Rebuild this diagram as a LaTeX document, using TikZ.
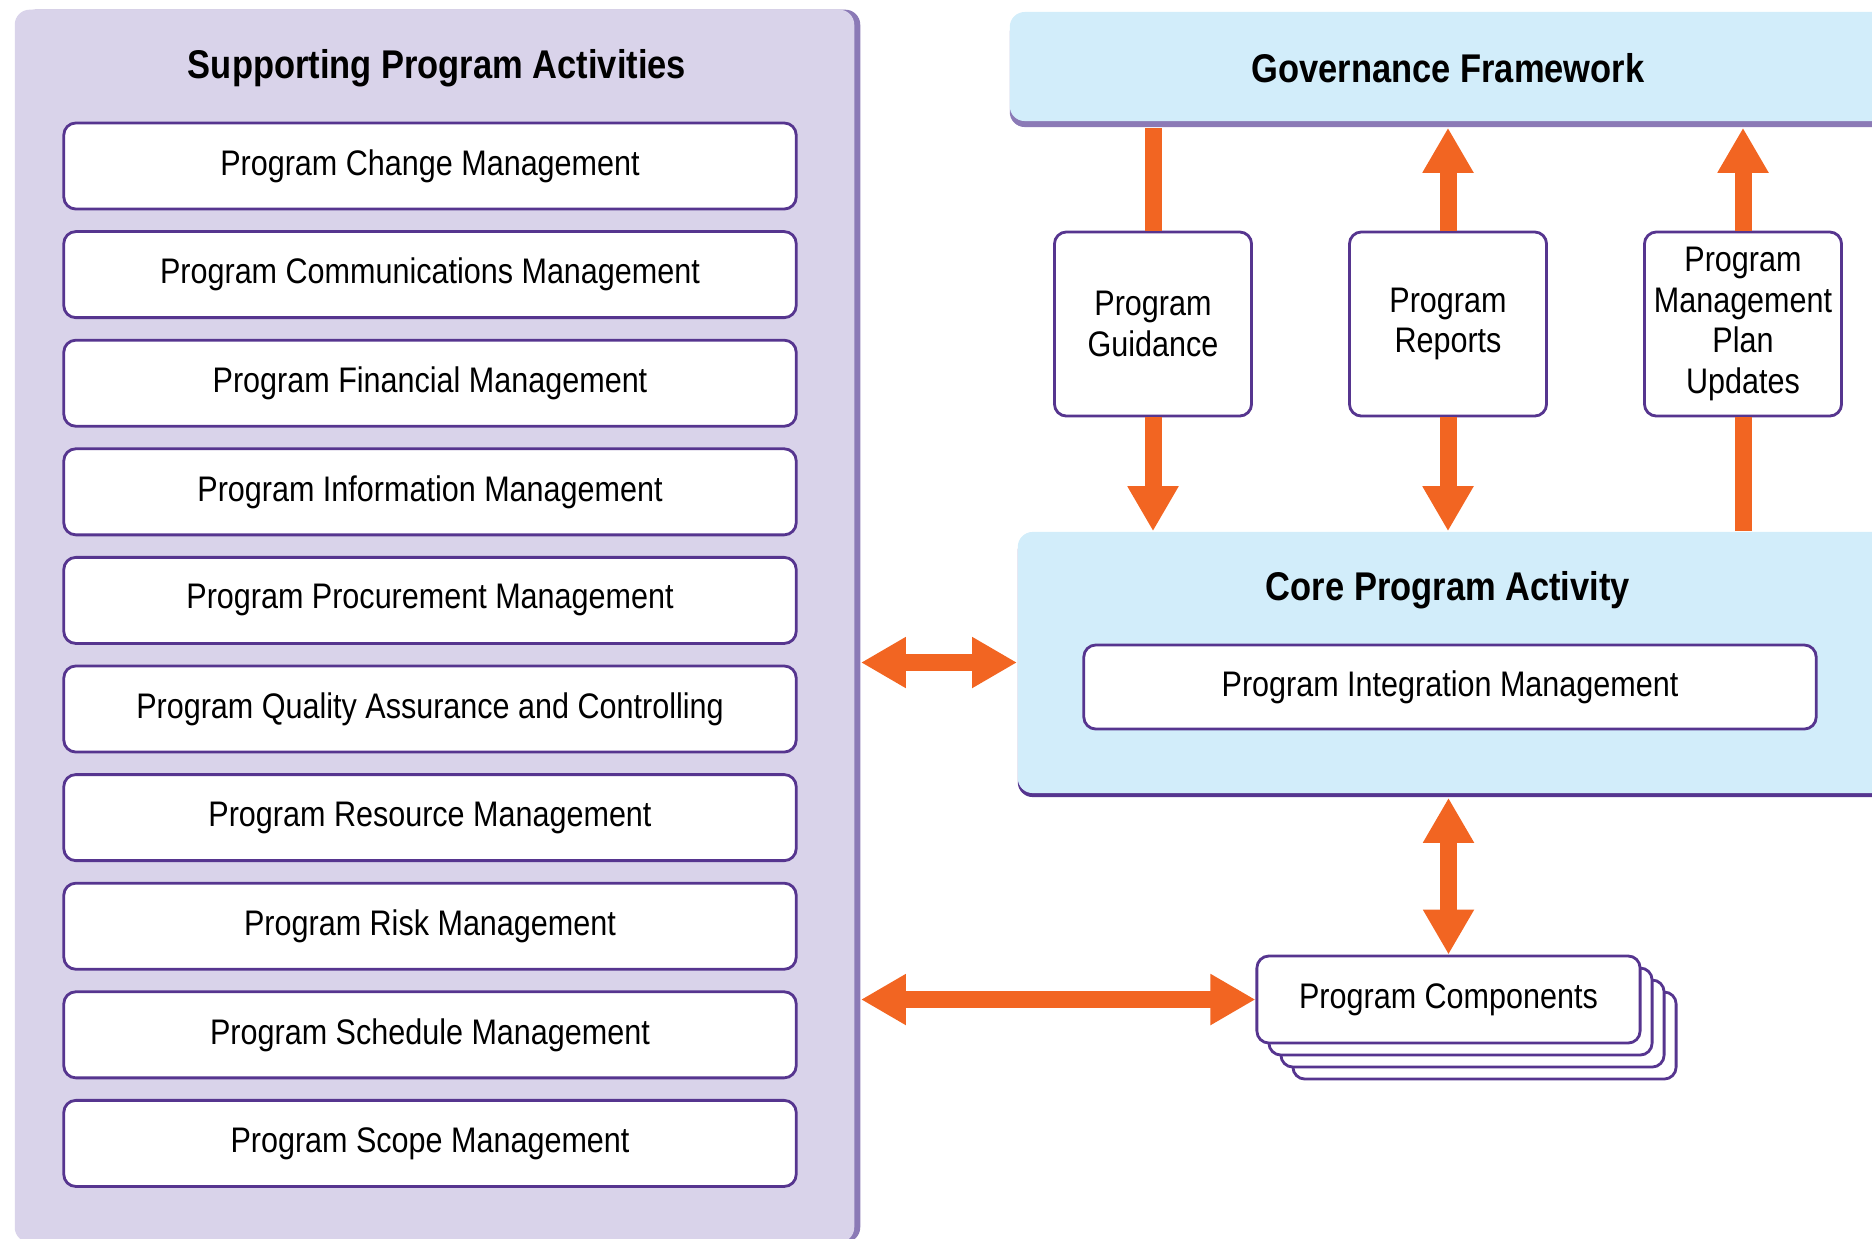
\documentclass[tikz,border=0pt]{standalone}
\usepackage{fontspec}
\setmainfont{Liberation Sans}[FakeStretch=0.86]
\usepackage{tikz}
\usetikzlibrary{arrows.meta,positioning,shadows}

\definecolor{lavfill}{HTML}{D9D3EA}
\definecolor{lavedge}{HTML}{8B7AB6}
\definecolor{boxline}{HTML}{56358F}
\definecolor{skyfill}{HTML}{D2EDFA}
\definecolor{flow}{HTML}{F26522}

\begin{document}
\begin{tikzpicture}[x=0.01cm, y=-0.01cm,
    panel/.style={rounded corners=0.15cm, fill=lavfill, inner sep=0pt,
      general shadow={fill=lavedge, shadow xshift=0.06cm, shadow yshift=0cm}},
    band/.style={rounded corners=0.15cm, fill=skyfill, inner sep=0pt},
    item/.style={draw=boxline, line width=0.8pt, rounded corners=0.12cm, fill=white,
      font=\fontsize{10.1}{11.5}\selectfont, align=center, inner sep=0pt},
    wide/.style={item, minimum width=7.32cm, minimum height=0.86cm},
    tall/.style={item, minimum width=1.97cm, minimum height=1.84cm},
    head/.style={font=\fontsize{11.4}{13}\selectfont\bfseries},
    bar/.style={draw=flow, line width=0.17cm},
    arr/.style={bar, -{Triangle[width=0.48cm, length=0.45cm]}},
    darr/.style={bar, {Triangle[width=0.48cm, length=0.45cm]}-{Triangle[width=0.48cm, length=0.45cm]}},
  ]
    \useasboundingbox (0,0) rectangle (1872,1238);

    % Supporting activities
    \node[panel, minimum width=8.39cm, minimum height=12.32cm] (supp) at (434.5,626) {};
    \node[head] (supptitle) at (437,68) {Supporting Program Activities};
    \node[wide] (chg) at (430,166) {Program Change Management};
    \node[wide] (comm) at (430,274.6) {Program Communications Management};
    \node[wide] (fin) at (430,383.2) {Program Financial Management};
    \node[wide] (info) at (430,491.8) {Program Information Management};
    \node[wide] (proc) at (430,600.4) {Program Procurement Management};
    \node[wide] (qual) at (430,709) {Program Quality Assurance and Controlling};
    \node[wide] (res) at (430,817.6) {Program Resource Management};
    \node[wide] (risk) at (430,926.2) {Program Risk Management};
    \node[wide] (sched) at (430,1034.8) {Program Schedule Management};
    \node[wide] (scope) at (430,1143.4) {Program Scope Management};

    % Governance
    \node[band, minimum width=8.8cm, minimum height=1.09cm,
      general shadow={fill=lavedge, shadow xshift=0cm, shadow yshift=-0.06cm}] (gov) at (1450,66.5) {};
    \node[head] (govtitle) at (1448,68) {Governance Framework};
    \node[tall] (guide) at (1153,324) {Program\\Guidance};
    \node[tall] (reports) at (1448,324) {Program\\Reports};
    \node[tall] (pmpu) at (1743,324) {Program\\Management\\Plan\\Updates};

    % Core activity
    \node[band, minimum width=8.72cm, minimum height=2.61cm,
      general shadow={fill=boxline, shadow xshift=0cm, shadow yshift=-0.04cm}] (core) at (1454,662.5) {};
    \node[head] (coretitle) at (1448,590) {Core Program Activity};
    \node[wide, minimum height=0.84cm] (integ) at (1450,687) {Program Integration Management};

    % Components (stacked)
    \node[item, minimum width=3.83cm, minimum height=0.87cm,
      copy shadow={shadow xshift=0.36cm, shadow yshift=-0.36cm},
      copy shadow={shadow xshift=0.24cm, shadow yshift=-0.24cm},
      copy shadow={shadow xshift=0.12cm, shadow yshift=-0.12cm}] (comps) at (1448.5,999.5) {Program Components};

    % Arrows
    \draw[bar] (guide.north) -- ([yshift=-0.06cm]gov.south -| guide.north);
    \draw[arr] (guide.south) -- (core.north -| guide.south);
    \draw[arr] (reports.north) -- ([yshift=-0.06cm]gov.south -| reports.north);
    \draw[arr] (reports.south) -- (core.north -| reports.south);
    \draw[arr] (pmpu.north) -- ([yshift=-0.06cm]gov.south -| pmpu.north);
    \draw[bar] (pmpu.south) -- (core.north -| pmpu.south);
    \draw[darr] ([xshift=0.06cm]supp.east |- core.west) -- (core.west);
    \draw[darr] ([yshift=-0.04cm]core.south -| comps.north) -- (comps.north);
    \draw[darr] ([xshift=0.06cm]supp.east |- comps.west) -- (comps.west);
  \end{tikzpicture}
\end{document}
